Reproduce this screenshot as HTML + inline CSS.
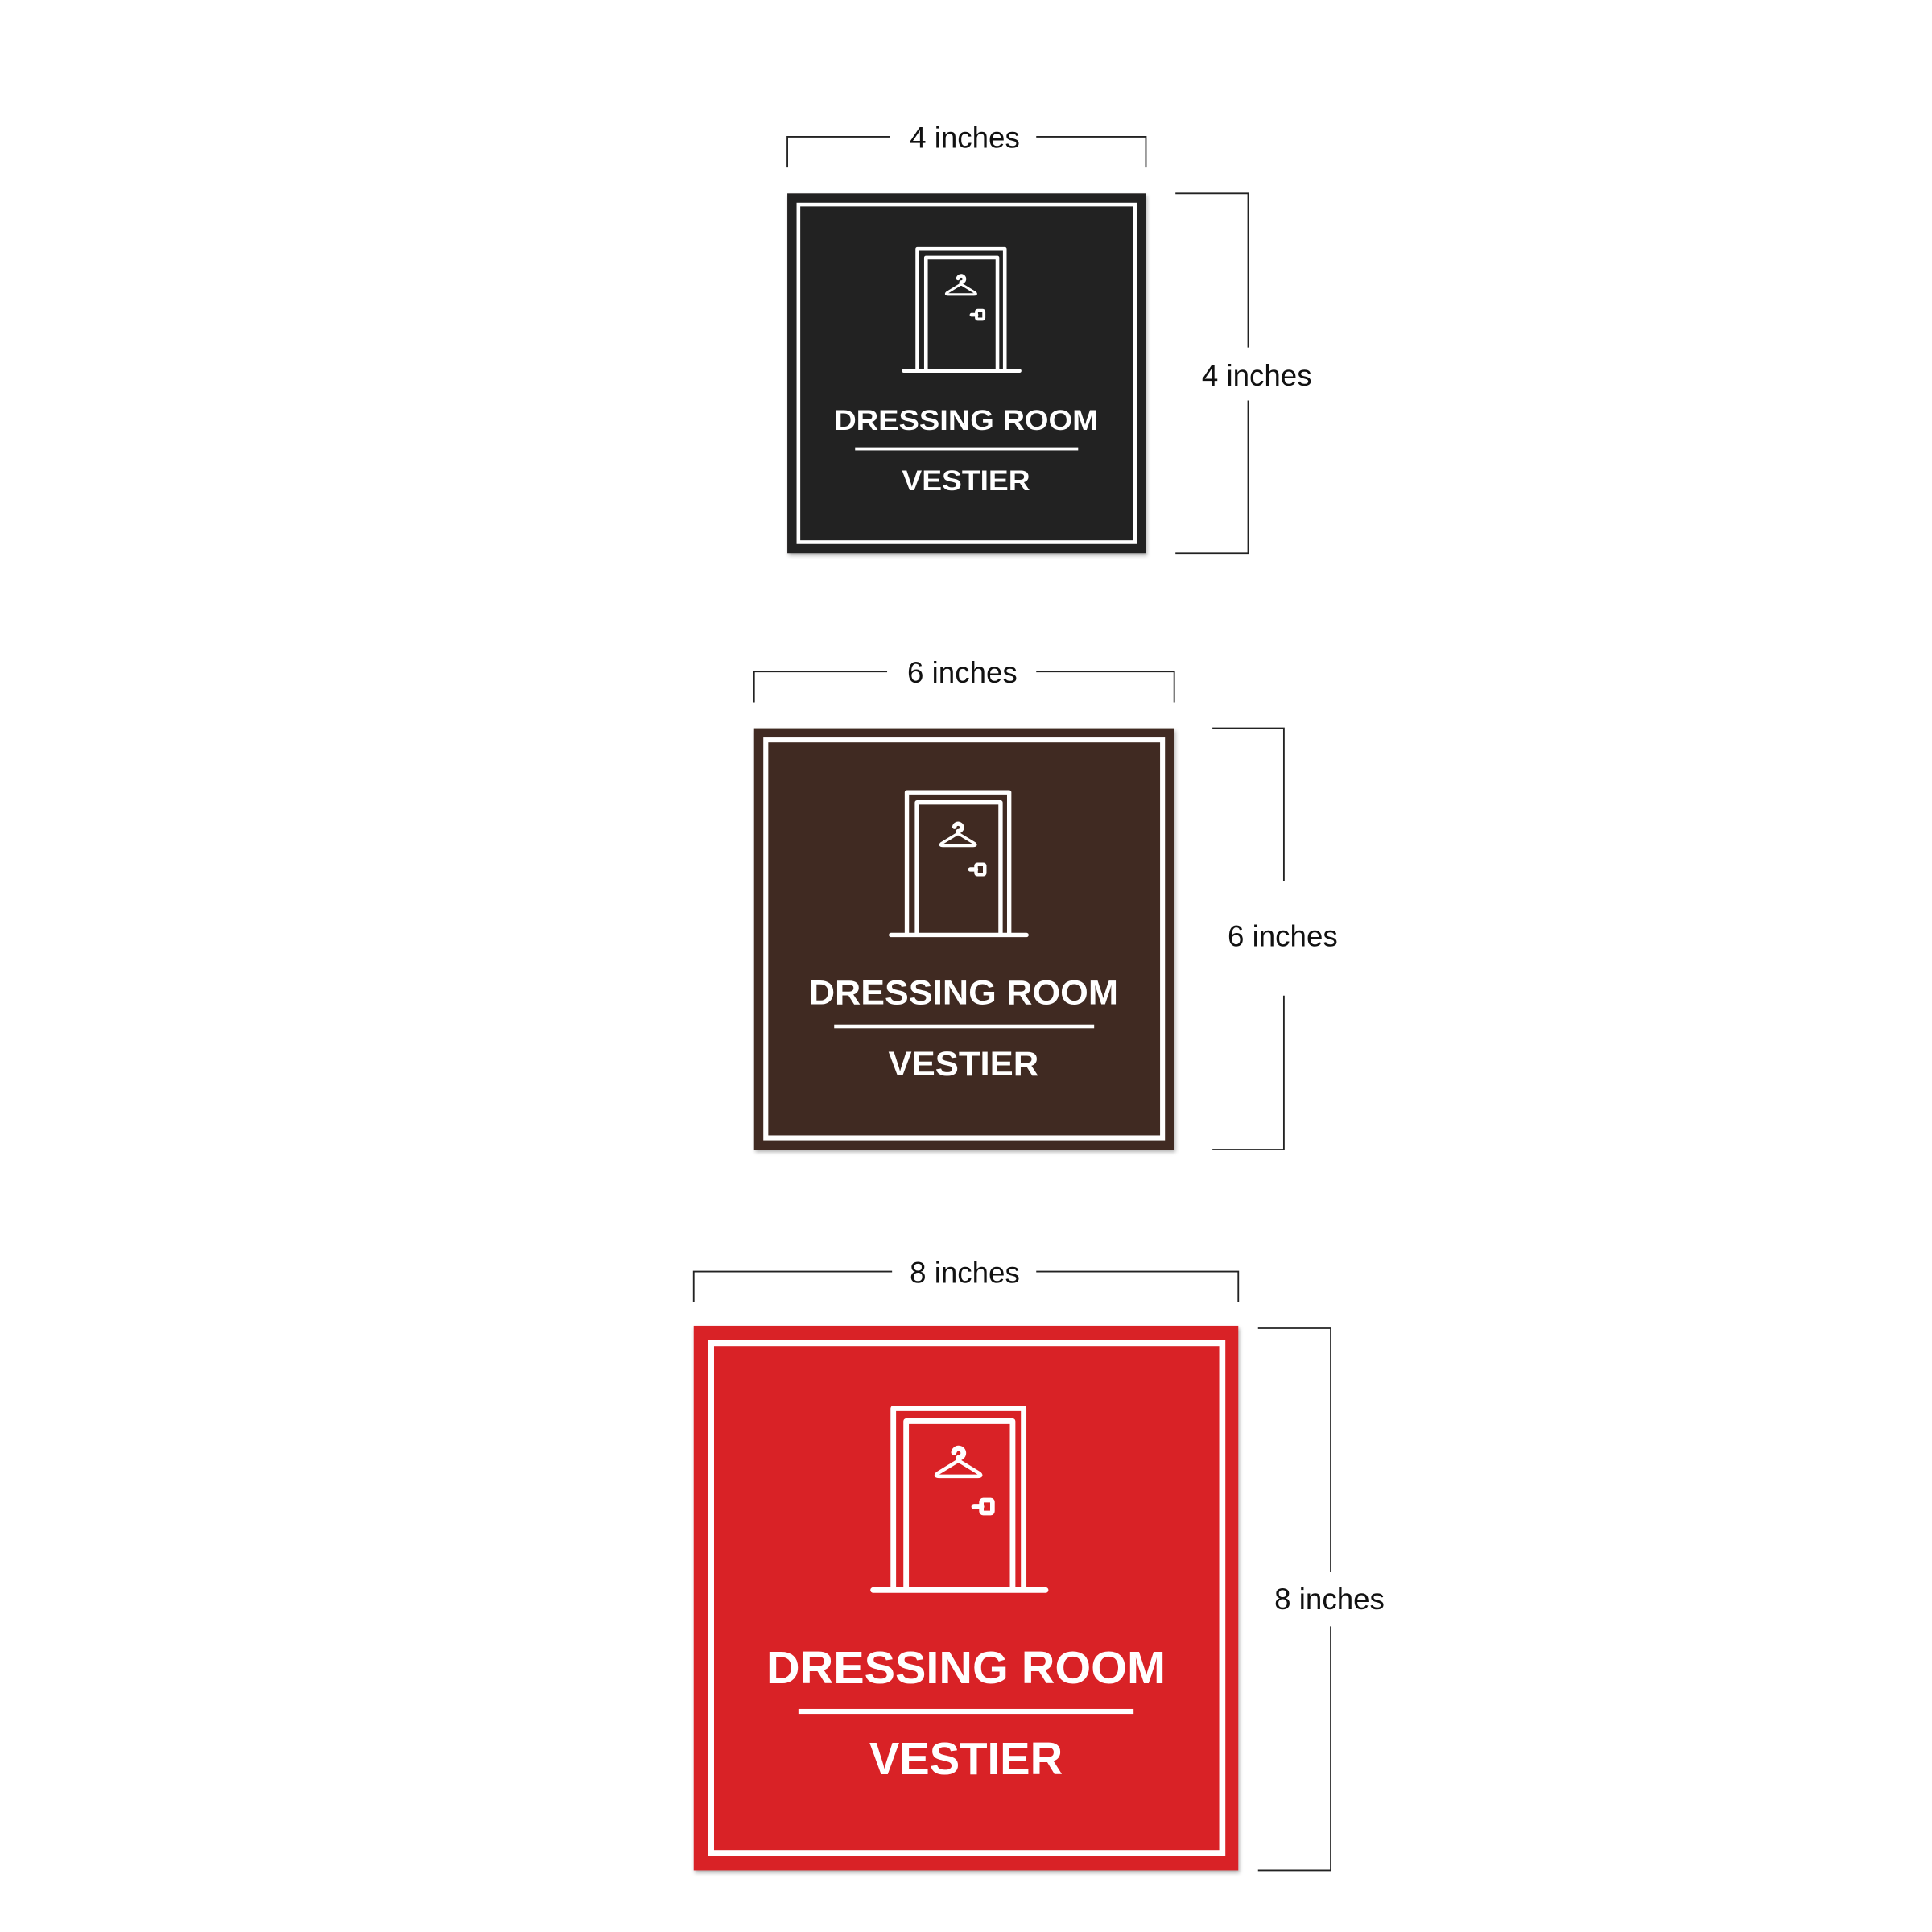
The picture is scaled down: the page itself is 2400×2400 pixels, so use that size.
<!DOCTYPE html>
<html><head><meta charset="utf-8"><style>
html,body{margin:0;padding:0;background:#fff;}
svg{display:block;}
</style></head><body>
<svg width="2400" height="2400" viewBox="0 0 1568 1568" xmlns="http://www.w3.org/2000/svg" font-family="Liberation Sans, sans-serif">
<defs>
<g id="door" fill="none" stroke="#fff" stroke-width="3" stroke-linecap="round" stroke-linejoin="round">
  <path d="M0,99 V0 H71 V99" stroke-linecap="butt"/>
  <path d="M7,99 V7 H65 V99" stroke-linecap="butt"/>
  <path d="M-11,99 H83"/>
  <path d="M33,24 A2.6,2.6 0 1 1 35.5,27 L35.5,28.5"/>
  <path d="M35.5,28.5 L24,35.5 Q22.5,37 25,37 H46 Q48.5,37 47,35.5 Z" stroke-width="2"/>
  <rect x="48" y="50" width="6" height="7" rx="1" stroke-width="2.5"/>
  <path d="M44,53.5 H48" stroke-width="3"/>
</g>
<filter id="sh" x="-5%" y="-5%" width="110%" height="110%"><feDropShadow dx="1" dy="2" stdDeviation="1.5" flood-opacity="0.3"/></filter>
</defs>

<g stroke="#222" stroke-width="1.2" fill="none">
  <path d="M639,136 V111 H722 M841,111 H930 V136"/>
  <path d="M954,157 H1013 V282 M1013,325 V449 H954"/>
  <path d="M612,570 V545 H720 M841,545 H953 V570"/>
  <path d="M984,591 H1042 V715 M1042,808 V933 H984"/>
  <path d="M563,1057 V1032 H724 M841,1032 H1005 V1057"/>
  <path d="M1021,1078 H1080 V1276 M1080,1320 V1518 H1021"/>
</g>
<g font-size="24" fill="#111" text-anchor="middle">
  <text x="783" y="120">4 inches</text>
  <text x="1020" y="313">4 inches</text>
  <text x="781" y="554">6 inches</text>
  <text x="1041" y="768">6 inches</text>
  <text x="783" y="1041">8 inches</text>
  <text x="1079" y="1306">8 inches</text>
</g>

<rect x="639" y="157" width="291" height="292" fill="#222020" filter="url(#sh)"/>
<rect x="648" y="166" width="273" height="274" fill="none" stroke="#fff" stroke-width="3"/>
<use href="#door" transform="translate(744.5,202)"/>
<g fill="#fff" font-weight="bold" text-anchor="middle">
  <text x="784" y="349" font-size="23" textLength="214" lengthAdjust="spacingAndGlyphs">DRESSING ROOM</text>
  <text x="784" y="398" font-size="23" textLength="104" lengthAdjust="spacingAndGlyphs">VESTIER</text>
</g>
<rect x="694" y="363" width="181" height="2.5" fill="#fff"/>

<rect x="612" y="591" width="341" height="342" fill="#3f2a21" filter="url(#sh)"/>
<rect x="621.5" y="600.5" width="322" height="323" fill="none" stroke="#fff" stroke-width="4"/>
<use href="#door" transform="translate(736,643) scale(1.17)"/>
<g fill="#fff" font-weight="bold" text-anchor="middle">
  <text x="782" y="815" font-size="28" textLength="251" lengthAdjust="spacingAndGlyphs">DRESSING ROOM</text>
  <text x="782" y="873" font-size="28" textLength="122" lengthAdjust="spacingAndGlyphs">VESTIER</text>
</g>
<rect x="677" y="831.5" width="211" height="3" fill="#fff"/>

<rect x="563" y="1076" width="442" height="442" fill="#d92128" filter="url(#sh)"/>
<rect x="577" y="1090" width="415" height="414" fill="none" stroke="#fff" stroke-width="5"/>
<use href="#door" transform="translate(725,1143) scale(1.49)"/>
<g fill="#fff" font-weight="bold" text-anchor="middle">
  <text x="784" y="1366" font-size="37" textLength="324" lengthAdjust="spacingAndGlyphs">DRESSING ROOM</text>
  <text x="784" y="1440" font-size="37" textLength="157" lengthAdjust="spacingAndGlyphs">VESTIER</text>
</g>
<rect x="648" y="1387" width="272" height="4" fill="#fff"/>
</svg>
</body></html>
